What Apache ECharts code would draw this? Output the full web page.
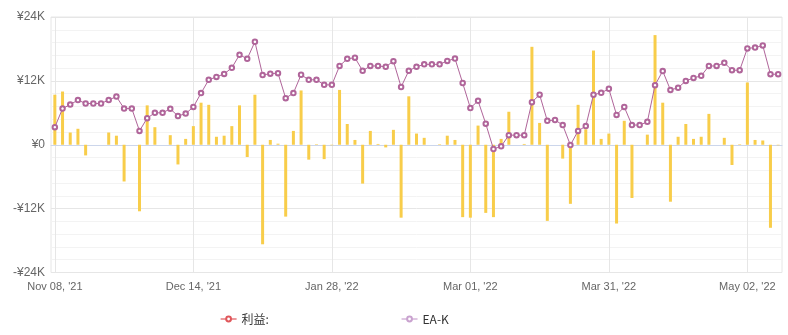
<!DOCTYPE html>
<html>
<head>
<meta charset="utf-8">
<script src="https://cdn.jsdelivr.net/npm/echarts@6/dist/echarts.min.js"></script>
<style>html,body{margin:0;padding:0;background:#fff}#c{width:788px;height:335px}</style>
</head>
<body>
<div id="c"></div>
<script>
const categories = [
"Nov 08, '21","Nov 10, '21","Nov 12, '21","Nov 14, '21","Nov 16, '21","Nov 18, '21","Nov 20, '21","Nov 22, '21","Nov 24, '21","Nov 26, '21",
"Nov 28, '21","Nov 30, '21","Dec 02, '21","Dec 04, '21","Dec 06, '21","Dec 08, '21","Dec 10, '21","Dec 12, '21","Dec 14, '21","Dec 17, '21",
"Dec 19, '21","Dec 22, '21","Dec 24, '21","Dec 27, '21","Dec 29, '21","Jan 01, '22","Jan 03, '22","Jan 06, '22","Jan 08, '22","Jan 11, '22",
"Jan 13, '22","Jan 16, '22","Jan 18, '22","Jan 21, '22","Jan 23, '22","Jan 26, '22","Jan 28, '22","Jan 30, '22","Feb 01, '22","Feb 03, '22",
"Feb 05, '22","Feb 07, '22","Feb 09, '22","Feb 11, '22","Feb 13, '22","Feb 15, '22","Feb 17, '22","Feb 19, '22","Feb 21, '22","Feb 23, '22",
"Feb 25, '22","Feb 26, '22","Feb 27, '22","Feb 28, '22","Mar 01, '22","Mar 03, '22","Mar 05, '22","Mar 07, '22","Mar 09, '22","Mar 11, '22",
"Mar 13, '22","Mar 15, '22","Mar 17, '22","Mar 19, '22","Mar 21, '22","Mar 23, '22","Mar 25, '22","Mar 26, '22","Mar 27, '22","Mar 28, '22",
"Mar 29, '22","Mar 30, '22","Mar 31, '22","Apr 02, '22","Apr 04, '22","Apr 06, '22","Apr 08, '22","Apr 10, '22","Apr 12, '22","Apr 14, '22",
"Apr 16, '22","Apr 18, '22","Apr 20, '22","Apr 22, '22","Apr 24, '22","Apr 26, '22","Apr 28, '22","Apr 29, '22","Apr 30, '22","May 01, '22",
"May 02, '22","May 04, '22","May 06, '22","May 08, '22","May 10, '22"
];

// 利益: (bars)
const profit = [
9400,10000,2300,3000,-2000,0,0,2300,1700,-6900,
0,-12500,7400,3300,0,1800,-3700,1100,3500,7900,
7500,1500,1700,3500,7400,-2300,9400,-18700,900,200,
-13500,2600,10200,-2800,100,-2700,-100,10300,3900,900,
-7300,2600,150,-500,2800,-13700,9100,2100,1300,0,
100,1700,900,-13600,-13700,3600,-12800,-13600,1100,6200,
0,150,18400,4100,-14300,0,-2600,-11100,7500,2900,
17700,1100,2100,-14800,4500,-10000,0,1900,20600,7900,
-10700,1500,3900,1100,1500,5800,0,1300,-3800,100,
11700,900,800,-15600,-100
];

// EA-K (line)
const eak = [
3300,6800,7550,8400,7750,7750,7750,8400,9050,6800,
6800,2600,5000,6000,6000,6750,5400,5850,7100,9700,
12200,12750,13300,14450,16900,16150,19350,13100,13350,13450,
8750,9700,13150,12200,12200,11250,11250,14800,16150,16350,
13900,14800,14800,14650,15700,10850,13900,14650,15100,15100,
15100,15750,16200,11600,6900,8250,3950,-800,-300,1800,
1800,1800,8000,9400,4500,4650,3700,-50,2600,3500,
9400,9750,10500,5600,7100,3700,3700,4300,11200,13850,
10300,10700,12000,12550,12950,14800,14800,15400,14000,14000,
18100,18250,18650,13250,13250
];

const yTicks = [-24000, 24000, 12000]; // min, max, interval
const legendNames = ['利益:', 'EA-K'];

const chart = echarts.init(document.getElementById('c'), null, {renderer: 'canvas'});
const fmtY = v => v === 0 ? '¥0' : (v < 0 ? '-¥' + (-v / 1000) + 'K' : '¥' + (v / 1000) + 'K');

chart.setOption({
  animation: false,
  backgroundColor: '#ffffff',
  grid: {left: 51, right: 6, top: 17, bottom: 62.5, show: true, borderColor: '#e6e6e6', borderWidth: 1},
  legend: {
    left: 215, top: 308, itemWidth: 16, itemHeight: 6, itemGap: 132,
    textStyle: {color: '#333', fontSize: 12, fontFamily: 'Noto Sans CJK SC, Liberation Sans, sans-serif'},
    data: [
      {name: legendNames[0], itemStyle: {color: '#e0575b', borderWidth: 1.2}, lineStyle: {color: '#e0575b', width: 1.2}},
      {name: legendNames[1], itemStyle: {color: '#c9a2cf', borderWidth: 1.2}, lineStyle: {color: '#c9a2cf', width: 1.2}}
    ]
  },
  xAxis: {
    type: 'category', data: categories, boundaryGap: true,
    axisLine: {show: true, lineStyle: {color: '#ccd6eb'}},
    axisTick: {show: false},
    axisLabel: {interval: 17, color: '#666', fontSize: 11, margin: 9, fontFamily: 'Liberation Sans, Arial, sans-serif'},
    splitLine: {show: true, interval: 17, alignWithLabel: true, lineStyle: {color: '#e6e6e6'}}
  },
  yAxis: {
    type: 'value', min: yTicks[0], max: yTicks[1], interval: yTicks[2],
    axisLine: {show: false}, axisTick: {show: false},
    axisLabel: {formatter: fmtY, color: '#666', fontSize: 12, margin: 6, fontFamily: 'Liberation Sans, Arial, sans-serif'},
    splitLine: {lineStyle: {color: '#e6e6e6'}},
    minorTick: {show: false, splitNumber: 5},
    minorSplitLine: {show: true, lineStyle: {color: '#f3f3f3'}}
  },
  series: [
    {name: legendNames[0], type: 'line', data: [], color: '#e0575b', symbol: 'emptyCircle'},
    {name: legendNames[0], type: 'bar', data: profit, barWidth: 3, itemStyle: {color: '#f8cd4a'}},
    {name: legendNames[1], type: 'line', data: eak, color: '#b0659a', symbol: 'emptyCircle', symbolSize: 4.5,
     lineStyle: {width: 1, color: '#b0659a'}, itemStyle: {color: '#b0659a', borderWidth: 1}}
  ]
});
</script>
</body>
</html>
